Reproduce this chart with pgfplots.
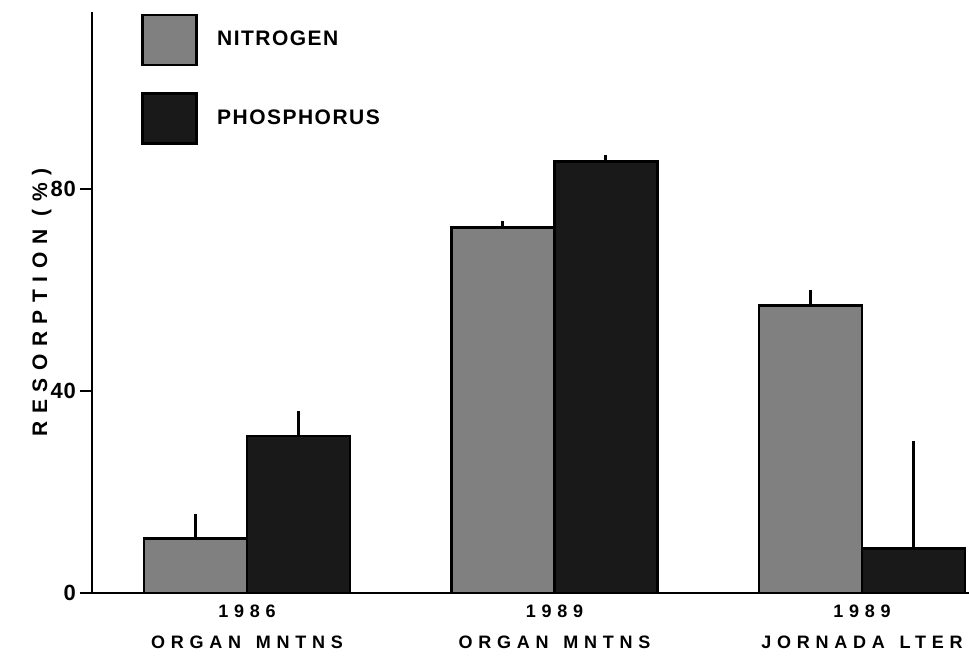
\documentclass[border=0pt]{standalone}
\usepackage{fontspec}
\setmainfont{Liberation Sans}
\usepackage{pgfplots}
\usepackage{pgfplotstable}
\pgfplotsset{compat=1.18}
\pgfplotstableread{
x y e
0 10.8 4.9
1 72.3 1.4
2 56.9 3.0
}\nitrogen
\pgfplotstableread{
x y e
0 31.1 4.9
1 85.4 1.2
2 8.8 21.2
}\phosphorus
\newfontfamily\legfont{Liberation Sans}[LetterSpace=7]
\newfontfamily\ylabfont{Liberation Sans}[LetterSpace=36]
\newfontfamily\xlabfont{Liberation Sans}[LetterSpace=32]
\newfontfamily\tickfont{Liberation Sans}[LetterSpace=4]
\begin{document}
\begin{tikzpicture}
\begin{axis}[
  at={(0,0)}, anchor=south west,
  scale only axis, width=438.5pt, height=290.5pt,
  xmin=-0.504, xmax=2.348, ymin=0, ymax=115,
  axis x line*=bottom, axis y line*=left,
  axis line style={line width=1.3pt},
  ytick={0,40,80},
  yticklabels={0,40,80},
  ytick style={line width=1.3pt, black},
  major tick length=6pt, tick align=outside,
  yticklabel style={font=\tickfont\fontsize{11}{13}\selectfont\bfseries, xshift=1.5pt},
  /pgf/number format/assume math mode=true,
  xtick={0,1,2},
  xtick style={draw=none},
  xticklabels={{1986\\[5pt]ORGAN\hspace{2pt} MNTNS},{1989\\[5pt]ORGAN\hspace{2pt} MNTNS},{1989\\[5pt]JORNADA\hspace{2pt} LTER}},
  xticklabel style={align=center, font=\xlabfont\fontsize{9}{10.5}\selectfont\bfseries, yshift=3.5pt},
  ylabel={RESORPTION\ (\%)},
  ylabel style={font=\ylabfont\fontsize{10.5}{12}\selectfont\bfseries, at={(axis description cs:-0.0575,0.5)}, anchor=center},
  bar width=0.335,
  legend image code/.code={\draw[#1] (0pt,-12.5pt) rectangle (27pt,12.5pt);},
  legend style={at={(axis description cs:0.0559,0.998)}, anchor=north west,
    draw=none, fill=none, inner sep=0pt, row sep=13pt, font=\legfont\fontsize{10.5}{12}\selectfont\bfseries,
    cells={anchor=west},
    /tikz/every even column/.append style={column sep=0pt}},
]
\addlegendimage{fill=black!50, draw=black, line width=1.4pt}
\addlegendentry{\hspace{7.5pt}NITROGEN}
\addlegendimage{fill=black!90, draw=black, line width=1.4pt}
\addlegendentry{\hspace{7.5pt}PHOSPHORUS}
\addplot[ybar, forget plot, bar shift=0pt, fill=black!50, draw=black, line width=1.3pt,
  error bars/.cd, y dir=plus, y explicit, error mark=none,
  error bar style={line width=1.5pt, black}]
  table[x expr=\thisrow{x}-0.1675, y=y, y error=e] {\nitrogen};
\addplot[ybar, forget plot, bar shift=0pt, fill=black!90, draw=black, line width=1.3pt,
  error bars/.cd, y dir=plus, y explicit, error mark=none,
  error bar style={line width=1.5pt, black}]
  table[x expr=\thisrow{x}+0.1675, y=y, y error=e] {\phosphorus};
\end{axis}
\pgfresetboundingbox
\path (-46pt,-32pt) rectangle (438.5pt,296.5pt);
\end{tikzpicture}
\end{document}
